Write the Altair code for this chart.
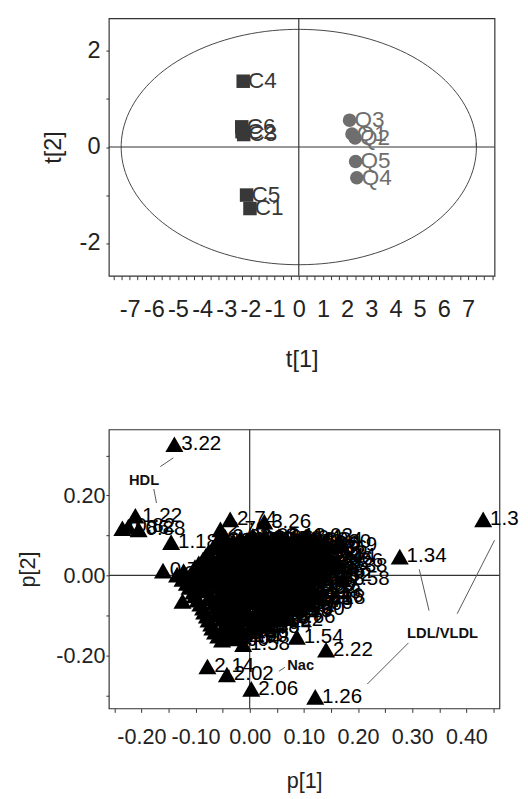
import altair as alt
import pandas as pd

SANS = "Liberation Sans"

# ---------------- Scores plot (t[1] vs t[2]) ----------------
score_names = ["C1", "C2", "C3", "C4", "C5", "C6", "Q1", "Q2", "Q3", "Q4", "Q5"]
score_t1 = [-2.02, -2.35, -2.28, -2.30, -2.16, -2.36, 2.20, 2.33, 2.10, 2.40, 2.35]
score_t2 = [-1.28, 0.32, 0.26, 1.37, -1.00, 0.42, 0.27, 0.19, 0.56, -0.64, -0.30]
score_group = ["C", "C", "C", "C", "C", "C", "Q", "Q", "Q", "Q", "Q"]

ELLIPSE_RX = 7.35
ELLIPSE_RY = 2.45

t1_ticks = [i / 3 for i in range(-23, 25)]
t2_ticks = [-2, -1, 0, 1, 2]

scores = pd.DataFrame({"name": score_names, "t1": score_t1, "t2": score_t2, "group": score_group})

xs_top = alt.Scale(domain=[-7.86, 8.1], nice=False, zero=False)
ys_top = alt.Scale(domain=[-2.68, 2.68], nice=False, zero=False)

x_axis_top = alt.Axis(
    title="t[1]", values=t1_ticks, grid=False, domain=False, tickSize=4,
    labelExpr="abs(datum.value - round(datum.value)) < 0.01 && abs(datum.value) < 7.5 ? (datum.value < -0.01 ? '-' : '') + format(abs(round(datum.value)), 'd') : ''",
    labelFont=SANS, labelFontSize=24, labelPadding=19, labelOverlap=False, labelFlush=False,
    titleFont=SANS, titleFontSize=24, titlePadding=27, titleFontWeight="normal",
)
y_axis_top = alt.Axis(
    title="t[2]", values=t2_ticks, grid=False, domain=False, tickSize=3,
    labelExpr="abs(datum.value) % 2 == 0 ? (datum.value < 0 ? '-' : '') + format(abs(datum.value), 'd') : ''",
    labelFont=SANS, labelFontSize=24, labelPadding=6, labelOverlap=False,
    titleFont=SANS, titleFontSize=24, titlePadding=14, titleFontWeight="normal",
)

top_x = alt.X("t1:Q", scale=xs_top, axis=x_axis_top)
top_y = alt.Y("t2:Q", scale=ys_top, axis=y_axis_top)

ellipse = alt.Chart(alt.sequence(0, 6.36, 0.04, as_="a")).transform_calculate(
    t1=f"{ELLIPSE_RX} * cos(datum.a)", t2=f"{ELLIPSE_RY} * sin(datum.a)"
).mark_line(color="#444", strokeWidth=1).encode(x=top_x, y=top_y, order="a:Q")

zero_df = pd.DataFrame({"t1": [0], "t2": [0]})
vline_top = alt.Chart(zero_df).mark_rule(color="#333", strokeWidth=1.2).encode(x=top_x)
hline_top = alt.Chart(zero_df).mark_rule(color="#333", strokeWidth=1.2).encode(y=top_y)

score_pts = alt.Chart(scores).mark_point(filled=True, opacity=1).encode(
    x=top_x, y=top_y,
    shape=alt.Shape("group:N", scale=alt.Scale(domain=["C", "Q"], range=["square", "circle"]), legend=None),
    color=alt.Color("group:N", scale=alt.Scale(domain=["C", "Q"], range=["#383838", "#6e6e6e"]), legend=None),
    size=alt.value(190),
)
score_txt = alt.Chart(scores).mark_text(align="left", baseline="middle", dx=5, font=SANS, fontSize=23).encode(
    x=top_x, y=top_y, text="name:N",
    color=alt.Color("group:N", scale=alt.Scale(domain=["C", "Q"], range=["#333333", "#6a6a6a"]), legend=None),
)

top = alt.layer(ellipse, vline_top, hline_top, score_pts, score_txt).properties(width=394, height=263)

# ---------------- Loadings plot (p[1] vs p[2]) ----------------
# labelled outliers
out_x = [-0.139, 0.431, 0.277, 0.121, 0.141, 0.087, 0.003, -0.042, -0.078, -0.012,
         0.170, 0.172, -0.211, -0.235, -0.224, -0.205, -0.145, -0.036, 0.027, -0.054,
         -0.160, -0.124, 0.160, 0.168, 0.127, 0.072]
out_y = [0.328, 0.140, 0.047, -0.304, -0.186, -0.154, -0.284, -0.248, -0.228, -0.172,
         0.076, -0.010, 0.149, 0.118, 0.122, 0.115, 0.083, 0.140, 0.134, 0.115,
         0.012, -0.064, 0.035, 0.022, -0.056, -0.105]
out_l = ["3.22", "1.3", "1.34", "1.26", "2.22", "1.54", "2.06", "2.02", "2.14", "1.58",
         "0.9", "1.58", "1.22", "0.86", "0.82", "0.88", "1.18", "2.74", "3.26", "2.70",
         "0.78", "1.14", "2.26", "3.38", "2.18", "1.66"]

# dense central cluster, row by row (main rows)
cluster_x = [
    -0.045, -0.018, 0.006, 0.031, 0.054, 0.082, 0.104,
    -0.061, -0.036, -0.012, 0.016, 0.041, 0.063, 0.091, 0.116, 0.138,
    -0.076, -0.049, -0.026, 0.002, 0.024, 0.052, 0.074, 0.101, 0.127,
    -0.086, -0.059, -0.034, -0.011, 0.017, 0.039, 0.066, 0.088, 0.114, 0.141,
    -0.101, -0.074, -0.051, -0.024, 0.001, 0.026, 0.049, 0.076, 0.099, 0.126,
    -0.134, -0.111, -0.084, -0.061, -0.036, -0.009, 0.014, 0.041, 0.064, 0.091, 0.114, 0.139,
    -0.116, -0.089, -0.066, -0.041, -0.014, 0.011, 0.034, 0.061, 0.084, 0.109,
    -0.104, -0.081, -0.054, -0.031, -0.006, 0.021, 0.044, 0.071, 0.094, 0.119,
    -0.096, -0.069, -0.046, -0.019, 0.004, 0.031, 0.054, 0.081, 0.104,
    -0.086, -0.061, -0.034, -0.011, 0.016, 0.039, 0.066, 0.089,
    -0.079, -0.056, -0.029, -0.006, 0.021, 0.044,
    -0.071, -0.044, -0.021, 0.006, 0.029,
    -0.064, -0.041, -0.014,
    -0.051, -0.029,
]
cluster_y = [
    0.096, 0.091, 0.099, 0.093, 0.098, 0.092, 0.097,
    0.081, 0.077, 0.083, 0.079, 0.075, 0.084, 0.080, 0.078, 0.082,
    0.058, 0.062, 0.056, 0.061, 0.064, 0.055, 0.060, 0.059, 0.054,
    0.040, 0.036, 0.043, 0.038, 0.041, 0.035, 0.043, 0.039, 0.034, 0.041,
    0.021, 0.018, 0.023, 0.017, 0.022, 0.019, 0.024, 0.018, 0.021, 0.016,
    0.002, -0.002, 0.003, -0.001, 0.004, -0.003, 0.001, 0.003, -0.002, 0.002, -0.004, 0.001,
    -0.019, -0.022, -0.017, -0.021, -0.018, -0.023, -0.019, -0.016, -0.021, -0.024,
    -0.041, -0.038, -0.043, -0.039, -0.042, -0.037, -0.041, -0.044, -0.039, -0.042,
    -0.061, -0.058, -0.063, -0.059, -0.062, -0.057, -0.061, -0.064, -0.059,
    -0.081, -0.078, -0.083, -0.079, -0.082, -0.077, -0.081, -0.084,
    -0.101, -0.098, -0.103, -0.099, -0.102, -0.097,
    -0.121, -0.118, -0.123, -0.119, -0.122,
    -0.141, -0.138, -0.143,
    -0.161, -0.158,
]
cluster_l = [
    "2.90", "3.06", "3.02", "2.86", "3.18", "0.94", "1.02",
    "2.66", "2.82", "3.10", "3.14", "3.30", "2.98", "0.98", "1.06", "2.30",
    "2.62", "2.58", "3.34", "3.42", "3.46", "3.50", "1.10", "2.34", "2.38",
    "0.74", "2.54", "3.54", "3.62", "3.66", "3.70", "3.74", "1.42", "2.42", "2.46",
    "0.70", "2.50", "3.78", "3.82", "3.86", "3.90", "3.94", "1.46", "2.50", "1.38",
    "0.66", "1.62", "2.10", "3.98", "4.02", "4.06", "4.10", "1.50", "1.70", "1.74", "1.78", "1.82",
    "1.86", "1.90", "1.94", "1.98", "4.14", "4.18", "4.22", "0.62", "1.28", "1.30",
    "1.12", "1.16", "1.20", "1.24", "4.26", "4.30", "0.58", "0.54", "1.32", "2.18",
    "1.36", "1.40", "1.44", "1.48", "1.52", "1.56", "1.60", "1.64", "1.68",
    "1.72", "1.76", "1.80", "1.84", "1.88", "1.92", "1.96", "2.00",
    "2.04", "2.08", "2.12", "2.16", "2.20", "2.24",
    "2.28", "2.32", "2.36", "2.40", "2.44",
    "2.48", "2.52", "2.56",
    "2.60", "2.64",
]

# dense central cluster, interleaved rows
fill_x = [
    -0.053, -0.030, -0.005, 0.022, 0.047, 0.070, 0.096, 0.122,
    -0.068, -0.043, -0.019, 0.009, 0.033, 0.058, 0.083, 0.108, 0.131,
    -0.081, -0.054, -0.030, -0.005, 0.020, 0.046, 0.070, 0.095, 0.120, 0.146,
    -0.094, -0.068, -0.043, -0.018, 0.009, 0.033, 0.058, 0.083, 0.107, 0.133,
    -0.122, -0.096, -0.072, -0.047, -0.022, 0.003, 0.028, 0.053, 0.078, 0.102, 0.127,
    -0.124, -0.098, -0.073, -0.048, -0.024, 0.002, 0.026, 0.051, 0.076, 0.099, 0.126,
    -0.111, -0.084, -0.059, -0.034, -0.009, 0.016, 0.041, 0.066, 0.091, 0.113,
    -0.101, -0.074, -0.049, -0.024, 0.001, 0.026, 0.051, 0.076, 0.101, 0.124,
    -0.091, -0.066, -0.041, -0.016, 0.009, 0.034, 0.059, 0.084, 0.104,
    -0.084, -0.059, -0.034, -0.009, 0.016, 0.041, 0.066,
    -0.076, -0.051, -0.026, -0.001, 0.024, 0.049,
    -0.069, -0.044, -0.019, 0.006,
    -0.058, -0.036, -0.016,
]
fill_y = [
    0.088, 0.086, 0.089, 0.087, 0.090, 0.086, 0.088, 0.087,
    0.069, 0.071, 0.068, 0.072, 0.069, 0.070, 0.068, 0.071, 0.069,
    0.049, 0.051, 0.048, 0.050, 0.052, 0.047, 0.050, 0.049, 0.051, 0.048,
    0.030, 0.028, 0.031, 0.029, 0.032, 0.027, 0.030, 0.029, 0.031, 0.028,
    0.011, 0.009, 0.012, 0.008, 0.010, 0.011, 0.009, 0.012, 0.008, 0.010, 0.009,
    -0.009, -0.011, -0.008, -0.012, -0.010, -0.009, -0.011, -0.008, -0.012, -0.010, -0.009,
    -0.029, -0.031, -0.028, -0.032, -0.030, -0.029, -0.031, -0.028, -0.032, -0.030,
    -0.050, -0.052, -0.049, -0.051, -0.048, -0.052, -0.050, -0.049, -0.051, -0.053,
    -0.071, -0.069, -0.072, -0.070, -0.068, -0.071, -0.070, -0.072, -0.069,
    -0.091, -0.089, -0.092, -0.090, -0.088, -0.091, -0.090,
    -0.111, -0.109, -0.112, -0.110, -0.108, -0.111,
    -0.131, -0.129, -0.132, -0.130,
    -0.151, -0.149, -0.152,
]
fill_l = [
    "2.94", "3.22", "3.38", "3.58", "2.78", "0.96", "1.00", "1.04",
    "2.68", "2.80", "3.08", "3.12", "3.16", "3.20", "1.08", "2.32", "2.36",
    "2.60", "2.56", "3.36", "3.40", "3.44", "3.48", "3.52", "1.40", "2.40", "2.44",
    "0.72", "2.52", "3.56", "3.60", "3.64", "3.68", "3.72", "1.44", "2.48", "1.36",
    "0.68", "0.64", "2.08", "3.76", "3.80", "3.84", "3.88", "3.92", "1.48", "1.72", "1.76",
    "1.60", "1.64", "2.12", "3.96", "4.00", "4.04", "4.08", "1.52", "1.80", "1.84", "1.88",
    "1.92", "1.96", "2.00", "4.12", "4.16", "4.20", "4.24", "0.60", "1.26", "1.32",
    "1.10", "1.14", "1.18", "1.22", "4.28", "0.56", "0.52", "0.50", "1.34", "2.16",
    "1.38", "1.42", "1.46", "1.50", "1.54", "1.58", "1.62", "1.66", "1.70",
    "1.74", "1.78", "1.82", "1.86", "1.90", "1.94", "1.98",
    "2.02", "2.06", "2.10", "2.14", "2.18", "2.22",
    "2.26", "2.30", "2.34", "2.38",
    "2.42", "2.46", "2.50",
]

ann_text = ["HDL", "LDL/VLDL", "Nac"]
ann_x = [-0.195, 0.356, 0.094]
ann_y = [0.238, -0.145, -0.225]

lead_x1 = [-0.165, -0.177, 0.313, 0.452, 0.293, 0.054]
lead_y1 = [0.272, 0.216, 0.015, 0.088, -0.169, -0.240]
lead_x2 = [-0.141, -0.172, 0.331, 0.383, 0.217, 0.065]
lead_y2 = [0.294, 0.181, -0.088, -0.096, -0.272, -0.230]

p1_ticks = [i / 100 for i in range(-25, 50, 5)]
p2_ticks = [i / 100 for i in range(-30, 40, 10)]

loads = pd.DataFrame({
    "p1": cluster_x + fill_x + out_x,
    "p2": cluster_y + fill_y + out_y,
    "lab": cluster_l + fill_l + out_l,
})
ann = pd.DataFrame({"p1": ann_x, "p2": ann_y, "txt": ann_text})
leads = pd.DataFrame({"p1": lead_x1, "p2": lead_y1, "p1b": lead_x2, "p2b": lead_y2})

xs_bot = alt.Scale(domain=[-0.26, 0.461], nice=False, zero=False)
ys_bot = alt.Scale(domain=[-0.333, 0.365], nice=False, zero=False)

x_axis_bot = alt.Axis(
    title="p[1]", values=p1_ticks, grid=False, domain=False, tickSize=4,
    labelExpr="abs(round(datum.value * 100)) % 10 == 0 ? (datum.value < -0.001 ? '-' : '') + format(abs(datum.value), '.2f') : ''",
    labelFont=SANS, labelFontSize=22, labelPadding=15, labelOverlap=False, labelFlush=False,
    titleFont=SANS, titleFontSize=22, titlePadding=24, titleFontWeight="normal",
)
y_axis_bot = alt.Axis(
    title="p[2]", values=p2_ticks, grid=False, domain=False, tickSize=3,
    labelExpr="abs(round(datum.value * 100)) % 20 == 0 ? (datum.value < -0.001 ? '-' : '') + format(abs(datum.value), '.2f') : ''",
    labelFont=SANS, labelFontSize=22, labelPadding=1, labelOverlap=False,
    titleFont=SANS, titleFontSize=22, titlePadding=17, titleFontWeight="normal",
)

bot_x = alt.X("p1:Q", scale=xs_bot, axis=x_axis_bot)
bot_y = alt.Y("p2:Q", scale=ys_bot, axis=y_axis_bot)

zero_df2 = pd.DataFrame({"p1": [0], "p2": [0]})
vline_bot = alt.Chart(zero_df2).mark_rule(color="#333", strokeWidth=1.2).encode(x=bot_x)
hline_bot = alt.Chart(zero_df2).mark_rule(color="#333", strokeWidth=1.2).encode(y=bot_y)

tri = alt.Chart(loads).mark_point(shape="triangle-up", filled=True, opacity=1, color="black", size=340).encode(
    x=bot_x, y=bot_y
)
tri_txt = alt.Chart(loads).mark_text(align="left", baseline="middle", dx=7, font=SANS, fontSize=21, color="black").encode(
    x=bot_x, y=bot_y, text="lab:N"
)
lead_lines = alt.Chart(leads).mark_rule(color="#555", strokeWidth=1).encode(
    x=bot_x, y=bot_y, x2="p1b:Q", y2="p2b:Q"
)
ann_txt = alt.Chart(ann).mark_text(align="center", baseline="middle", font=SANS, fontSize=15, fontWeight="bold", color="#111").encode(
    x=bot_x, y=bot_y, text="txt:N"
)

bottom = alt.layer(vline_bot, hline_bot, lead_lines, tri, tri_txt, ann_txt).properties(width=399, height=285)

chart = alt.vconcat(top, bottom, spacing=56).configure_view(
    stroke="#333", strokeWidth=1.2
).configure_axis(
    labelColor="#222", titleColor="#222", tickColor="#333", tickWidth=1
).properties(
    padding={"left": 8, "top": 0, "right": 0, "bottom": 0},
    background="white",
)

chart.save("out.html", embed_options={"renderer": "svg", "actions": False})
